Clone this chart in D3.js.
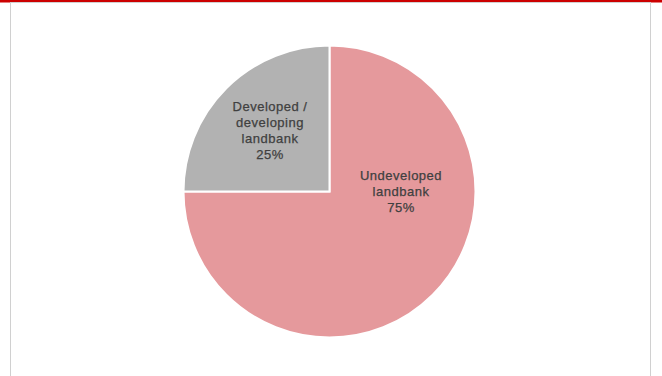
<!DOCTYPE html>
<html><head><meta charset="utf-8">
<script src="https://cdn.jsdelivr.net/npm/d3@7"></script>
<style>body{margin:0;background:#fff}svg{display:block}</style>
</head><body>
<script>
const categories = ["Undeveloped landbank", "Developed / developing landbank"];
const values = [75, 25];
const labelLines = [["Undeveloped", "landbank", "75%"], ["Developed /", "developing", "landbank", "25%"]];
const colors = ["#e5999c", "#b2b2b2"];

const W = 662, H = 376;
const svg = d3.select("body").append("svg").attr("width", W).attr("height", H);
svg.append("rect").attr("x", 0).attr("y", 0).attr("width", W).attr("height", 2.5).attr("fill", "#cc0000");
svg.append("rect").attr("x", 10.5).attr("y", 2.5).attr("width", 640).attr("height", 380)
  .attr("fill", "none").attr("stroke", "#d0d0d0").attr("stroke-width", 1);

const cx = 329.5, cy = 191.5, r = 146;
const pie = d3.pie().sort(null).value(d => d)(values);
const arc = d3.arc().innerRadius(0).outerRadius(r);
const g = svg.append("g").attr("transform", `translate(${cx},${cy})`);
g.selectAll("path").data(pie).join("path")
  .attr("d", arc).attr("fill", (d, i) => colors[i])
  .attr("stroke", "#fff").attr("stroke-width", 2);

const labelPos = [[71.5, -12], [-59.5, -81]];
pie.forEach((d, i) => {
  labelLines[i].forEach((ln, j) => {
    g.append("text").attr("text-anchor", "middle")
      .attr("font-family", "'Liberation Sans', Arial, sans-serif")
      .attr("font-size", 13).attr("letter-spacing", 0.5).attr("fill", "#404040")
      .attr("stroke", "#404040").attr("stroke-width", 0.25)
      .attr("x", labelPos[i][0]).attr("y", labelPos[i][1] + j * 16).text(ln);
  });
});
</script>
</body></html>
